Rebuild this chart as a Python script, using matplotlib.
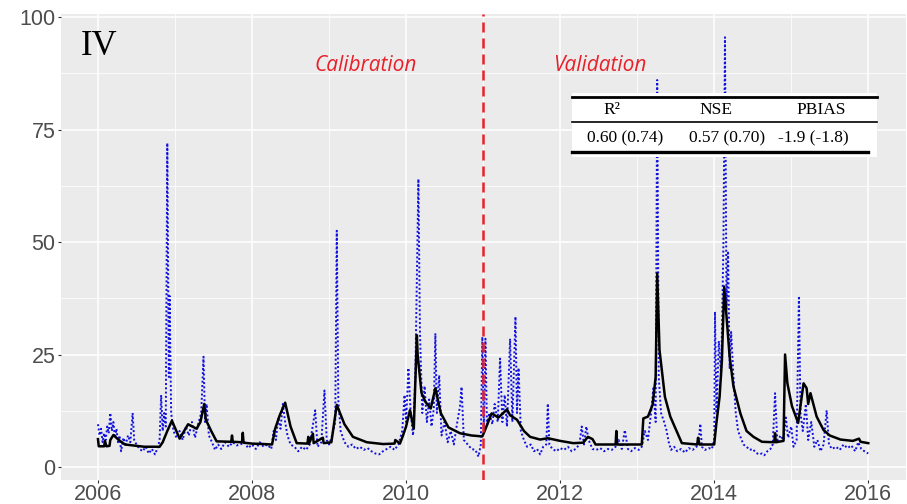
import numpy as np
import matplotlib
matplotlib.use("Agg")
import matplotlib.pyplot as plt
from matplotlib.patches import Rectangle
from matplotlib.lines import Line2D

# simulated flow (black line): decimal year, value
sim_t = [2006.00, 2006.01, 2006.08, 2006.09, 2006.11, 2006.15, 2006.16, 2006.20, 2006.27, 2006.35,
         2006.45, 2006.60, 2006.80, 2006.84, 2006.90, 2006.96, 2007.06, 2007.17, 2007.28, 2007.33,
         2007.38, 2007.40, 2007.47, 2007.54, 2007.70, 2007.73, 2007.74, 2007.75, 2007.87, 2007.88,
         2007.89, 2008.00, 2008.15, 2008.26, 2008.30, 2008.36, 2008.43, 2008.50, 2008.58, 2008.72,
         2008.73, 2008.74, 2008.79, 2008.80, 2008.92, 2008.93, 2009.03, 2009.06, 2009.10, 2009.20,
         2009.31, 2009.49, 2009.70, 2009.85, 2009.86, 2009.92, 2009.96, 2010.00, 2010.05, 2010.10,
         2010.14, 2010.15, 2010.20, 2010.25, 2010.32, 2010.38, 2010.45, 2010.55, 2010.70, 2010.85,
         2010.99, 2011.02, 2011.11, 2011.20, 2011.31, 2011.35, 2011.44, 2011.53, 2011.61, 2011.74,
         2011.84, 2012.00, 2012.17, 2012.30, 2012.36, 2012.42, 2012.46, 2012.72, 2012.73, 2012.74,
         2013.06, 2013.08, 2013.14, 2013.20, 2013.24, 2013.26, 2013.27, 2013.29, 2013.36, 2013.43,
         2013.58, 2013.78, 2013.79, 2013.81, 2014.00, 2014.03, 2014.07, 2014.10, 2014.13, 2014.16,
         2014.20, 2014.25, 2014.34, 2014.42, 2014.51, 2014.62, 2014.78, 2014.79, 2014.80, 2014.90,
         2014.92, 2014.95, 2015.01, 2015.09, 2015.16, 2015.20, 2015.22, 2015.25, 2015.33, 2015.42,
         2015.50, 2015.64, 2015.80, 2015.88, 2015.90, 2016.00]
sim_q = [6.2, 4.6, 4.6, 5.8, 4.6, 4.7, 6.0, 7.1, 6.0, 5.0,
         4.8, 4.5, 4.5, 5.5, 8.0, 10.3, 6.3, 9.5, 8.5, 10.0,
         14.0, 10.5, 8.0, 5.7, 5.6, 5.6, 7.0, 5.6, 5.5, 7.6,
         5.4, 5.2, 5.1, 5.0, 8.5, 11.5, 14.3, 9.0, 5.3, 5.2,
         6.7, 5.2, 7.4, 5.3, 6.5, 5.3, 5.5, 9.0, 13.8, 9.5,
         6.7, 5.5, 5.1, 5.2, 6.0, 5.2, 7.0, 9.0, 12.6, 8.5,
         29.3, 25.0, 16.5, 14.5, 13.0, 17.5, 12.0, 8.8, 7.5, 7.0,
         6.8, 8.0, 11.9, 11.0, 12.8, 11.5, 10.5, 8.0, 6.7, 6.1,
         6.4, 5.8, 5.3, 5.4, 6.7, 6.2, 5.0, 5.0, 8.0, 5.0,
         5.0, 10.8, 11.2, 13.8, 20.0, 43.0, 37.5, 26.0, 15.6, 11.2,
         5.3, 5.0, 6.5, 5.0, 5.0, 10.0, 15.6, 23.7, 40.1, 33.5,
         24.6, 17.9, 11.9, 8.0, 6.7, 5.6, 5.5, 7.5, 5.5, 5.8,
         25.0, 18.6, 13.5, 9.8, 18.6, 17.5, 14.0, 16.4, 11.2, 8.2,
         7.0, 6.1, 5.8, 6.3, 5.6, 5.3]

# observed flow (blue dotted line)
obs_t = [2006.00, 2006.02, 2006.04, 2006.06, 2006.08, 2006.10, 2006.12, 2006.14, 2006.16, 2006.18,
         2006.20, 2006.22, 2006.24, 2006.26, 2006.28, 2006.30, 2006.33, 2006.36, 2006.39, 2006.42,
         2006.45, 2006.47, 2006.50, 2006.54, 2006.58, 2006.62, 2006.66, 2006.70, 2006.74, 2006.78,
         2006.80, 2006.82, 2006.84, 2006.86, 2006.88, 2006.90, 2006.92, 2006.93, 2006.95, 2006.98,
         2007.02, 2007.06, 2007.10, 2007.14, 2007.18, 2007.22, 2007.26, 2007.30, 2007.34, 2007.37,
         2007.39, 2007.41, 2007.44, 2007.48, 2007.52, 2007.56, 2007.60, 2007.65, 2007.70, 2007.75,
         2007.80, 2007.85, 2007.90, 2007.95, 2008.00, 2008.05, 2008.10, 2008.15, 2008.20, 2008.25,
         2008.28, 2008.31, 2008.34, 2008.37, 2008.40, 2008.43, 2008.46, 2008.50, 2008.55, 2008.60,
         2008.65, 2008.70, 2008.75, 2008.82, 2008.85, 2008.90, 2008.94, 2008.97, 2009.00, 2009.04,
         2009.08, 2009.10, 2009.12, 2009.15, 2009.20, 2009.25, 2009.30, 2009.35, 2009.40, 2009.45,
         2009.50, 2009.55, 2009.60, 2009.65, 2009.70, 2009.75, 2009.80, 2009.85, 2009.90, 2009.95,
         2009.98, 2010.00, 2010.03, 2010.06, 2010.09, 2010.12, 2010.16, 2010.18, 2010.21, 2010.24,
         2010.27, 2010.30, 2010.33, 2010.36, 2010.38, 2010.40, 2010.43, 2010.46, 2010.50, 2010.54,
         2010.58, 2010.62, 2010.66, 2010.70, 2010.72, 2010.75, 2010.80, 2010.85, 2010.90, 2010.94,
         2010.97, 2010.99, 2011.01, 2011.03, 2011.05, 2011.08, 2011.12, 2011.15, 2011.19, 2011.22,
         2011.25, 2011.28, 2011.31, 2011.35, 2011.38, 2011.42, 2011.44, 2011.46, 2011.49, 2011.53,
         2011.57, 2011.62, 2011.66, 2011.70, 2011.74, 2011.78, 2011.82, 2011.84, 2011.86, 2011.90,
         2011.95, 2012.00, 2012.05, 2012.10, 2012.15, 2012.20, 2012.25, 2012.28, 2012.31, 2012.34,
         2012.37, 2012.42, 2012.47, 2012.52, 2012.57, 2012.62, 2012.67, 2012.72, 2012.76, 2012.80,
         2012.84, 2012.88, 2012.92, 2012.97, 2013.02, 2013.06, 2013.10, 2013.14, 2013.18, 2013.21,
         2013.24, 2013.26, 2013.28, 2013.31, 2013.35, 2013.38, 2013.41, 2013.44, 2013.48, 2013.52,
         2013.57, 2013.62, 2013.67, 2013.72, 2013.77, 2013.80, 2013.82, 2013.84, 2013.88, 2013.93,
         2013.97, 2014.00, 2014.01, 2014.03, 2014.06, 2014.09, 2014.12, 2014.14, 2014.16, 2014.18,
         2014.20, 2014.22, 2014.25, 2014.28, 2014.31, 2014.34, 2014.38, 2014.42, 2014.46, 2014.50,
         2014.54, 2014.58, 2014.62, 2014.65, 2014.69, 2014.73, 2014.76, 2014.79, 2014.82, 2014.86,
         2014.90, 2014.93, 2014.96, 2015.00, 2015.03, 2015.07, 2015.10, 2015.12, 2015.15, 2015.19,
         2015.22, 2015.26, 2015.30, 2015.34, 2015.38, 2015.42, 2015.46, 2015.49, 2015.53, 2015.58,
         2015.63, 2015.68, 2015.73, 2015.78, 2015.83, 2015.87, 2015.91, 2015.95, 2016.00]
obs_q = [9.5, 7.0, 8.5, 5.5, 7.5, 6.0, 9.0, 7.5, 12.0, 8.0,
         10.0, 6.5, 8.5, 5.5, 7.0, 3.5, 6.5, 5.0, 7.0, 5.5,
         12.0, 6.0, 5.0, 4.0, 3.5, 4.5, 3.0, 4.0, 2.8, 4.5,
         6.0, 16.0, 8.0, 12.0, 9.0, 72.0, 20.0, 38.0, 12.0, 8.0,
         6.5, 8.0, 6.0, 9.0, 7.0, 10.0, 6.5, 9.5, 12.0, 24.5,
         10.0, 14.0, 7.0, 5.5, 3.8, 5.0, 4.0, 5.5, 4.5, 5.5,
         4.8, 5.0, 5.5, 4.2, 5.0, 4.0, 5.5, 4.5, 5.0, 4.0,
         8.0, 6.0, 11.0, 8.5, 14.0, 10.0, 7.0, 5.0, 4.5, 3.5,
         4.5, 3.8, 5.0, 12.6, 4.5, 5.5, 17.0, 6.0, 5.0, 7.0,
         10.0, 52.5, 15.0, 8.0, 5.5, 4.5, 5.0, 4.0, 4.5, 3.8,
         4.2, 3.5, 3.0, 2.8, 3.5, 4.0, 4.5, 3.8, 5.0, 8.0,
         16.0, 10.0, 22.0, 12.0, 7.0, 20.0, 64.0, 30.0, 12.0, 18.0,
         10.0, 15.0, 9.0, 13.0, 29.7, 12.0, 20.4, 7.0, 10.0, 5.5,
         8.0, 5.0, 9.5, 13.5, 17.8, 6.0, 5.0, 4.0, 3.8, 2.3,
         5.0, 28.9, 8.0, 28.5, 9.0, 12.0, 9.5, 14.0, 10.0, 24.1,
         10.0, 16.0, 9.0, 28.5, 10.0, 33.4, 12.0, 22.0, 8.0, 6.0,
         4.5, 5.0, 3.5, 4.0, 2.8, 4.5, 5.0, 14.1, 5.0, 4.0,
         3.5, 4.2, 3.8, 4.5, 3.5, 4.0, 5.0, 9.0, 5.0, 9.0,
         6.0, 4.0, 3.8, 4.2, 3.5, 4.0, 3.8, 4.5, 6.0, 4.0,
         8.2, 4.0, 3.5, 4.2, 3.8, 4.5, 8.0, 6.0, 12.0, 17.5,
         10.0, 86.0, 20.0, 12.0, 10.0, 8.2, 5.5, 3.8, 4.5, 3.5,
         4.0, 3.2, 4.2, 3.8, 4.5, 6.0, 9.6, 4.5, 3.8, 4.2,
         4.0, 6.0, 34.5, 12.0, 28.0, 20.0, 50.0, 95.5, 35.0, 48.0,
         22.0, 30.0, 20.0, 12.0, 8.0, 6.7, 5.0, 4.5, 3.8, 4.0,
         3.2, 2.8, 3.0, 2.6, 3.5, 4.0, 5.0, 16.4, 5.5, 7.0,
         6.0, 11.0, 6.5, 9.0, 4.5, 6.0, 38.0, 12.0, 8.0, 14.0,
         6.0, 10.0, 4.5, 6.0, 3.5, 5.0, 12.6, 5.0, 4.0, 4.5,
         3.8, 5.0, 4.2, 4.8, 3.5, 5.5, 4.0, 3.5, 3.0]

years = [2006, 2008, 2010, 2012, 2014, 2016]
yticks = [0, 25, 50, 75, 100]
split_year = 2011

tbl_head = ["R²", "NSE", "PBIAS"]
tbl_vals = ["0.60 (0.74)", "0.57 (0.70)", "-1.9 (-1.8)"]

W, H = 907, 504
fig = plt.figure(figsize=(W / 100, H / 100), dpi=100)
ax = fig.add_axes([61 / W, 1 - 480 / H, 845 / W, 466 / H])
ax.set_facecolor("#EBEBEB")
for s in ax.spines.values():
    s.set_visible(False)

ax.set_xlim(2005.52, 2016.49)
ax.set_ylim(-2.89, 100.67)
ax.set_xticks(years)
ax.set_yticks(yticks)
ax.set_xticks([2007, 2009, 2011, 2013, 2015], minor=True)
ax.set_yticks([12.5, 37.5, 62.5, 87.5], minor=True)
ax.grid(which="major", color="white", lw=1.1)
ax.grid(which="minor", color="white", lw=0.55)
ax.set_axisbelow(True)
ax.tick_params(which="major", length=2.5, width=0.8, color="#333333",
               labelcolor="#4D4D4D", labelsize=15.5, pad=1.5)
ax.tick_params(axis="x", pad=0.5)
ax.tick_params(which="minor", length=0)
for lab in ax.get_xticklabels() + ax.get_yticklabels():
    lab.set_fontfamily("Liberation Sans")

ax.plot(obs_t, obs_q, color="#1010E0", lw=1.4, ls=(0, (1, 1.2)), zorder=2)
ax.plot(sim_t, sim_q, color="black", lw=1.8, zorder=3)
ax.axvline(split_year, color="#E8202A", lw=1.8, ls=(0, (4, 2.4)), zorder=4)

ax.text(2006.0 - 0.23, 93.5, "IV", fontsize=25, family="Liberation Serif",
        color="black", ha="left", va="center")
ax.text(2009.47, 89.3, "Calibration", fontsize=15, style="italic",
        family="Open Sans", color="#E8202A", ha="center", va="center")
ax.text(2012.52, 89.3, "Validation", fontsize=15, style="italic",
        family="Open Sans", color="#E8202A", ha="center", va="center")

# statistics table drawn in figure pixels
def fx(px):
    return px / W

def fy(py):
    return 1 - py / H

fig.patches.append(Rectangle((fx(572), fy(157)), fx(877) - fx(572), fy(93) - fy(157),
                             transform=fig.transFigure, facecolor="white",
                             edgecolor="none", zorder=5))
fig.lines.append(Line2D([fx(572), fx(877)], [fy(97), fy(97)], transform=fig.transFigure,
                        color="black", lw=2.0, zorder=6))
fig.lines.append(Line2D([fx(572), fx(877)], [fy(122), fy(122)], transform=fig.transFigure,
                        color="black", lw=1.2, zorder=6))
fig.lines.append(Line2D([fx(572), fx(868)], [fy(152), fy(152)], transform=fig.transFigure,
                        color="black", lw=2.4, zorder=6))
for xc, t in zip([612, 716, 821], tbl_head):
    fig.text(fx(xc), fy(110), t, fontsize=12.5, family="Liberation Serif",
             ha="center", va="center", zorder=7)
for xc, t in zip([625, 727, 813], tbl_vals):
    fig.text(fx(xc), fy(138), t, fontsize=12.5, family="Liberation Serif",
             ha="center", va="center", zorder=7)

fig.savefig("out.png", dpi=100)
